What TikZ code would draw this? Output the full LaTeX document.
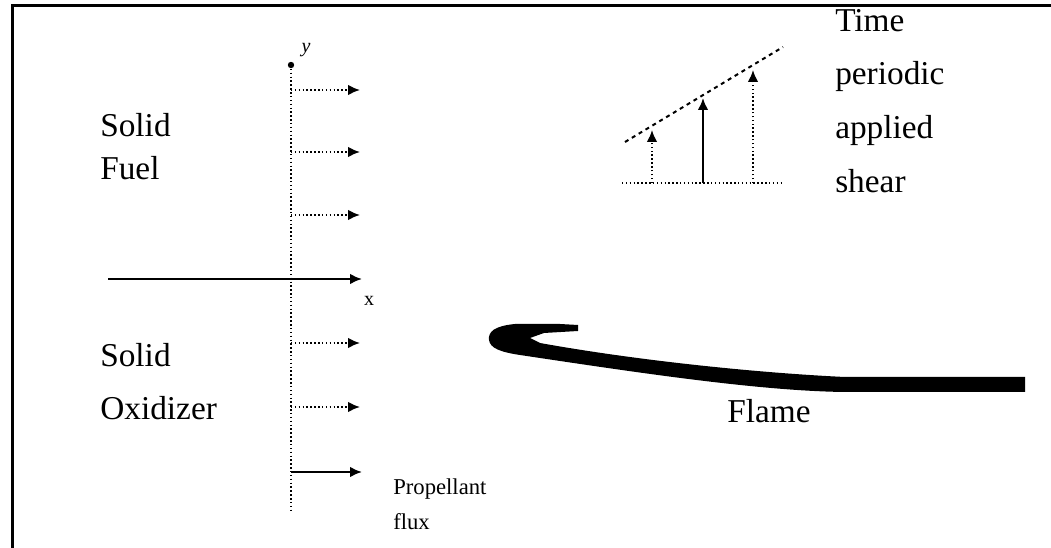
\documentclass[tikz,border=0pt]{standalone}
\usepackage{fontspec}
\setmainfont{Liberation Serif}
\usetikzlibrary{arrows.meta}
\begin{document}
\begin{tikzpicture}[x=0.75pt,y=-0.75pt,
  dotln/.style={line width=1.5pt, dash pattern=on 1.1pt off 1.8pt},
  dashln/.style={line width=1.5pt, dash pattern=on 3pt off 3pt},
  solidln/.style={line width=1.6pt},
  arr/.style={-{Latex[length=9pt,width=8pt]}},
  lbl/.style={font=\fontsize{25}{29}\selectfont, anchor=base west, inner sep=0pt},
  small/.style={font=\fontsize{17}{20}\selectfont, anchor=base west, inner sep=0pt},
  axlbl/.style={font=\itshape\fontsize{15}{18}\selectfont, inner sep=0pt}]
\useasboundingbox (0,0) rectangle (1051,548);
% frame
\draw[line width=2.25pt] (12,548) -- (12,6) -- (1051,6);

% axis
\coordinate (top) at (291,65);
\coordinate (bot) at (291,513);
\draw[dotln] (top) -- (bot);
\fill (top) circle (3.2);
\node[axlbl] (ylab) at (306,50) {y};
\coordinate (xs) at (108,279);
\coordinate (xe) at (362,279);
\draw[solidln,arr] (xs) -- (xe);
\node[axlbl,font=\fontsize{15}{18}\selectfont] (xlab) at (369,301) {x};

% flux arrows
\foreach \yy/\nm in {90/a1,152/a2,215/a3,343/a4,407/a5}{
  \coordinate (\nm s) at (291,\yy);
  \coordinate (\nm e) at (360,\yy);
  \draw[dotln,arr] (\nm s) -- (\nm e);
}
\coordinate (a6s) at (291,472);
\coordinate (a6e) at (362,472);
\draw[solidln,arr] (a6s) -- (a6e);

% labels
\node[lbl] (solid1) at (100,137) {Solid};
\node[lbl] (fuel) at (100,180) {Fuel};
\node[lbl] (solid2) at (100,367) {Solid};
\node[lbl] (oxid) at (100,420) {Oxidizer};
\node[small] (prop) at (393,495) {Propellant};
\node[small] (flux) at (393,530) {flux};

% shear diagram
\coordinate (b1) at (622,183);
\coordinate (b2) at (782,183);
\draw[dotln] (b1) -- (b2);
\coordinate (d1) at (625,142);
\coordinate (d2) at (783,47);
\draw[dashln] (d1) -- (d2);
\coordinate (s1) at (652,183); \coordinate (t1) at (652,130);
\coordinate (s2) at (703,183); \coordinate (t2) at (703,98);
\coordinate (s3) at (753,183); \coordinate (t3) at (753,70);
\draw[dotln,arr] (s1) -- (t1);
\draw[solidln,arr] (s2) -- (t2);
\draw[dotln,arr] (s3) -- (t3);
\node[lbl] (time) at (835,32) {Time};
\node[lbl] (per) at (835,85) {periodic};
\node[lbl] (app) at (835,139) {applied};
\node[lbl] (shear) at (835,193) {shear};

% flame
\fill (1025,377) -- (845,377)
  .. controls (760,373) and (640,361) .. (540,343)
  -- (530,338) -- (544,333) -- (578,331) -- (578,325) -- (560,324) -- (515,324)
  .. controls (494,326) and (488,332) .. (489,340)
  .. controls (490,348) and (500,352) .. (520,355)
  .. controls (640,373) and (760,391) .. (845,392)
  -- (1025,392) -- cycle;
\node[lbl] (flame) at (727,423) {Flame};
\end{tikzpicture}
\end{document}
